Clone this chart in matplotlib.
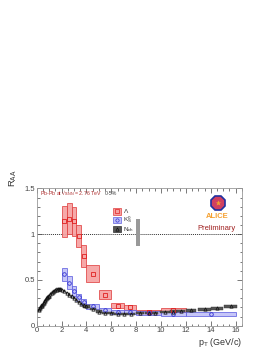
import matplotlib
matplotlib.use("Agg")
import matplotlib.pyplot as plt
from matplotlib.ticker import MultipleLocator

plt.rcParams["font.family"] = ["Liberation Sans", "DejaVu Sans"]
plt.rcParams["mathtext.fontset"] = "custom"
plt.rcParams["mathtext.rm"] = "Liberation Sans"
plt.rcParams["mathtext.it"] = "Liberation Sans:italic"

# ---- data ----
lam_pt = [2.2, 2.6, 3.0, 3.4, 3.8, 4.5, 5.5, 6.5, 7.5, 9.0, 11.0]
lam_lo = [2.0, 2.4, 2.8, 3.2, 3.6, 4.0, 5.0, 6.0, 7.0, 8.0, 10.0]
lam_hi = [2.4, 2.8, 3.2, 3.6, 4.0, 5.0, 6.0, 7.0, 8.0, 10.0, 12.0]
lam_val = [1.14, 1.17, 1.14, 0.98, 0.76, 0.57, 0.34, 0.22, 0.20, 0.15, 0.17]
lam_sys = [0.17, 0.17, 0.16, 0.12, 0.12, 0.09, 0.045, 0.03, 0.025, 0.02, 0.025]

k0_pt = [2.2, 2.6, 3.0, 3.4, 3.8, 4.5, 5.5, 6.5, 7.5, 9.0, 11.0, 14.0]
k0_lo = [2.0, 2.4, 2.8, 3.2, 3.6, 4.0, 5.0, 6.0, 7.0, 8.0, 10.0, 12.0]
k0_hi = [2.4, 2.8, 3.2, 3.6, 4.0, 5.0, 6.0, 7.0, 8.0, 10.0, 12.0, 16.0]
k0_val = [0.56, 0.47, 0.38, 0.31, 0.26, 0.21, 0.17, 0.15, 0.15, 0.14, 0.13, 0.13]
k0_sys = [0.075, 0.07, 0.05, 0.04, 0.035, 0.03, 0.025, 0.02, 0.02, 0.02, 0.025, 0.025]

nch_pt = [0.15, 0.2, 0.25, 0.3, 0.35, 0.4, 0.45, 0.5, 0.55, 0.6, 0.65, 0.7, 0.75,
          0.8, 0.85, 0.9, 0.95, 1.0, 1.1, 1.2, 1.3, 1.4, 1.5, 1.6, 1.7, 1.8, 1.9,
          2.0, 2.2, 2.4, 2.6, 2.8, 3.0, 3.2, 3.4, 3.6, 3.8, 4.0, 4.5, 5.0, 5.5,
          6.0, 6.5, 7.0, 7.6, 8.3, 9.0, 9.5, 10.3, 11.0, 11.6, 12.4, 13.5, 14.5, 15.6]
nch_val = [0.17, 0.18, 0.19, 0.20, 0.21, 0.22, 0.23, 0.24, 0.25, 0.26, 0.27, 0.28, 0.29,
           0.30, 0.31, 0.315, 0.32, 0.33, 0.345, 0.36, 0.37, 0.38, 0.39, 0.395, 0.40, 0.40, 0.40,
           0.395, 0.38, 0.36, 0.34, 0.32, 0.30, 0.28, 0.26, 0.24, 0.225, 0.21, 0.18, 0.155, 0.14,
           0.135, 0.13, 0.13, 0.13, 0.135, 0.14, 0.142, 0.148, 0.155, 0.16, 0.168, 0.18, 0.19, 0.21]
nch_w = [0.05] * 18 + [0.1] * 19 + [0.5] * 7 + [0.6, 0.7, 0.5, 0.5, 0.8, 0.6, 0.6, 0.8, 1.0, 1.0, 1.0]
nch_sys = [0.012] * 37 + [0.012] * 7 + [0.012, 0.012, 0.012, 0.013, 0.013, 0.014, 0.015, 0.016, 0.017, 0.018, 0.02]

norm_x = [8.15]
norm_lo = [0.87]
norm_hi = [1.17]

# ---- figure ----
fig = plt.figure(figsize=(2.72, 3.52), dpi=100)
ax = fig.add_axes([0.135, 0.0747, 0.754, 0.390])

# Lambda boxes
ax.bar([(a + b) / 2 for a, b in zip(lam_lo, lam_hi)],
       [2 * s for s in lam_sys],
       width=[b - a for a, b in zip(lam_lo, lam_hi)],
       bottom=[v - s for v, s in zip(lam_val, lam_sys)],
       color="#f5a0a0", edgecolor="#e04040", linewidth=0.6, alpha=0.9, zorder=2)
# K0s boxes
ax.bar([(a + b) / 2 for a, b in zip(k0_lo, k0_hi)],
       [2 * s for s in k0_sys],
       width=[b - a for a, b in zip(k0_lo, k0_hi)],
       bottom=[v - s for v, s in zip(k0_val, k0_sys)],
       color="#c0c0f8", edgecolor="#6060e0", linewidth=0.6, alpha=0.9, zorder=3)
# Nch boxes
ax.bar(nch_pt, [2 * s for s in nch_sys], width=nch_w,
       bottom=[v - s for v, s in zip(nch_val, nch_sys)],
       color="#555555", edgecolor="#333333", linewidth=0.3, zorder=4)

# normalisation box
ax.bar(norm_x, [norm_hi[0] - norm_lo[0]], width=0.35, bottom=norm_lo,
       color="#999999", edgecolor="none", zorder=2)

ax.plot(lam_pt, lam_val, linestyle="none", marker="s", ms=2.6, mfc="none",
        mec="#e02020", mew=0.6, zorder=6)
ax.plot(k0_pt, k0_val, linestyle="none", marker="o", ms=2.6, mfc="none",
        mec="#3030d0", mew=0.6, zorder=6)
ax.plot(nch_pt, nch_val, linestyle="none", marker="^", ms=2.4, mfc="none",
        mec="#111111", mew=0.5, zorder=7)

ax.axhline(1.0, color="#333333", linestyle=(0, (1, 1)), linewidth=0.7, zorder=1)

ax.set_xlim(0, 16.5)
ax.set_ylim(0, 1.5)
ax.xaxis.set_major_locator(MultipleLocator(2))
ax.xaxis.set_minor_locator(MultipleLocator(0.5))
ax.yaxis.set_major_locator(MultipleLocator(0.5))
ax.yaxis.set_minor_locator(MultipleLocator(0.1))
ax.tick_params(which="both", direction="in", top=True, right=True,
               labelsize=5.5, colors="#444444", pad=1.2)
ax.tick_params(which="major", length=3.5, width=0.5)
ax.tick_params(which="minor", length=1.8, width=0.5)
for sp in ax.spines.values():
    sp.set_color("#999999")
    sp.set_linewidth(0.6)
ax.set_yticks([0, 0.5, 1, 1.5])
ax.set_yticklabels(["0", "0.5", "1", "1.5"])

ax.text(1.0, -0.125, r"p$_\mathregular{T}$ (GeV/c)", transform=ax.transAxes,
        ha="right", va="center", fontsize=6.5, color="#333333")
ax.text(-0.115, 1.075, r"R$_\mathregular{AA}$", transform=ax.transAxes,
        ha="center", va="center", fontsize=6.8, color="#333333", rotation=90)

ax.text(0.3, 1.445, r"Pb-Pb at √s$_\mathregular{NN}$ = 2.76 TeV",
        fontsize=3.8, color="#b03030", va="center")
ax.text(5.5, 1.445, "0-5%", fontsize=3.8, color="#444444", va="center")

# legend
leg_y = [1.25, 1.155, 1.055]
leg_lab = [r"$\Lambda$", r"K$^0_\mathregular{S}$", r"N$_\mathregular{ch}$"]
leg_fc = ["#f5a0a0", "#c0c0f8", "#555555"]
leg_ec = ["#e04040", "#6060e0", "#333333"]
leg_mk = ["s", "o", "^"]
leg_mc = ["#e02020", "#3030d0", "#111111"]
for yy, lab, fc, ec, mk, mc in zip(leg_y, leg_lab, leg_fc, leg_ec, leg_mk, leg_mc):
    ax.bar([6.45], [0.07], width=0.6, bottom=[yy - 0.035], color=fc,
           edgecolor=ec, linewidth=0.5, zorder=5)
    ax.plot([6.45], [yy], marker=mk, ms=2.4, mfc="none", mec=mc, mew=0.5, zorder=6)
    ax.text(6.95, yy, lab, fontsize=4.6, color="#333333", va="center")

# ALICE logo approximation
ax.plot([14.6], [1.345], marker="8", ms=11, mfc="#d04060", mec="#2030a0", mew=1.2, zorder=6)
ax.plot([14.6], [1.345], marker="*", ms=4, mfc="#f0a030", mec="none", zorder=7)
ax.text(14.55, 1.19, "ALICE", fontsize=5.5, fontweight="bold", color="#f5a030",
        ha="center", va="center")
ax.text(14.5, 1.065, "Preliminary", fontsize=5.5, color="#a02020",
        ha="center", va="center")

fig.savefig("out.png", dpi=100)
